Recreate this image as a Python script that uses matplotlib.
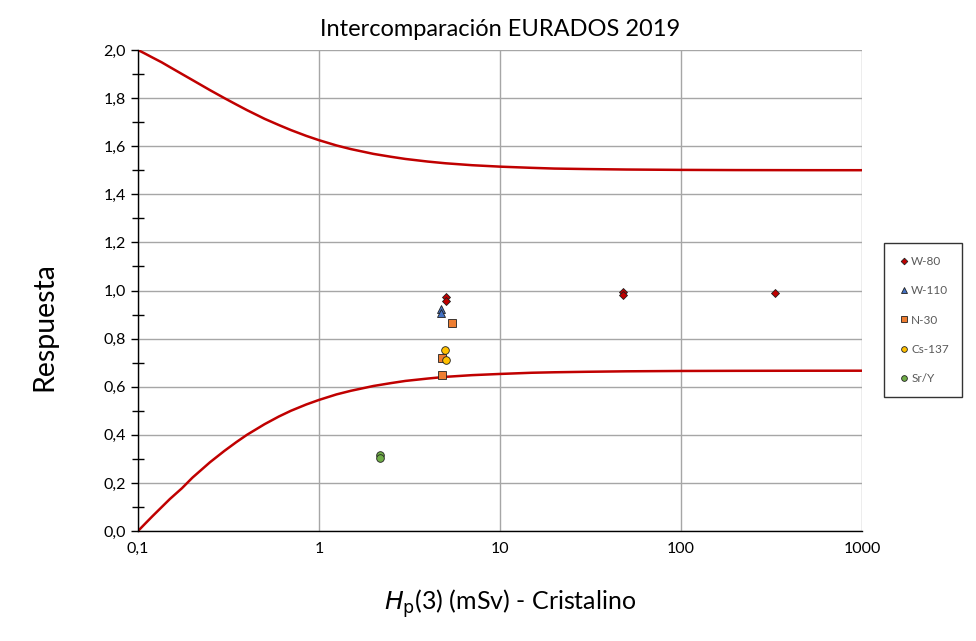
import matplotlib
matplotlib.use("Agg")
import matplotlib.pyplot as plt
from matplotlib.ticker import FixedLocator, FuncFormatter

plt.rcParams['font.family'] = ['Lato', 'DejaVu Sans']

# limit curves
curve_x = [0.1, 0.11, 0.12, 0.135, 0.15, 0.175, 0.2, 0.25, 0.3, 0.35, 0.4, 0.5, 0.6,
           0.7, 0.85, 1, 1.25, 1.5, 2, 2.5, 3, 4, 5, 7, 10, 15, 20, 30, 50, 100,
           200, 500, 1000]
upper = [2.0, 1.984, 1.969, 1.949, 1.929, 1.900, 1.875, 1.833, 1.800, 1.773, 1.750,
         1.714, 1.688, 1.667, 1.643, 1.625, 1.603, 1.588, 1.568, 1.556, 1.547,
         1.536, 1.529, 1.521, 1.515, 1.510, 1.507, 1.505, 1.503, 1.5015, 1.5007,
         1.5003, 1.5002]
lower = [0.0, 0.032, 0.061, 0.099, 0.133, 0.178, 0.222, 0.286, 0.333, 0.370, 0.400,
         0.444, 0.476, 0.500, 0.526, 0.545, 0.568, 0.583, 0.603, 0.615, 0.624,
         0.634, 0.641, 0.648, 0.653, 0.658, 0.660, 0.662, 0.664, 0.6654, 0.666,
         0.6664, 0.6665]

# measured points
w80_x = [5.0, 5.0, 48, 48, 330]
w80_y = [0.972, 0.955, 0.995, 0.980, 0.990]
w110_x = [4.75, 4.75]
w110_y = [0.922, 0.908]
n30_x = [5.45, 4.8, 4.8]
n30_y = [0.865, 0.72, 0.648]
cs_x = [4.97, 5.03]
cs_y = [0.753, 0.711]
sr_x = [2.17, 2.17]
sr_y = [0.316, 0.302]

fig = plt.figure(figsize=(9.76, 6.41), dpi=100)
ax = fig.add_axes([138/976, 1 - 531/641, (862-138)/976, (531-50)/641])

ax.plot(curve_x, upper, color='#C00000', lw=1.8, zorder=2)
ax.plot(curve_x, lower, color='#C00000', lw=1.8, zorder=2)

ms = 5.5
ax.plot(w80_x, w80_y, 'D', ms=4.5, color='#C00000', mec='#202020', mew=0.6, ls='none', label='W-80', zorder=3)
ax.plot(w110_x, w110_y, '^', ms=ms, color='#4472C4', mec='#202020', mew=0.6, ls='none', label='W-110', zorder=3)
ax.plot(n30_x, n30_y, 's', ms=ms, color='#ED7D31', mec='#202020', mew=0.6, ls='none', label='N-30', zorder=3)
ax.plot(cs_x, cs_y, 'o', ms=ms, color='#FFC000', mec='#202020', mew=0.6, ls='none', label='Cs-137', zorder=3)
ax.plot(sr_x, sr_y, 'o', ms=ms, color='#70AD47', mec='#202020', mew=0.6, ls='none', label='Sr/Y', zorder=3)

ax.set_xscale('log')
ax.set_xlim(0.1, 1000)
ax.set_ylim(0, 2.0)
ax.xaxis.set_major_locator(FixedLocator([0.1, 1, 10, 100, 1000]))
ax.xaxis.set_minor_locator(FixedLocator([]))
ax.xaxis.set_major_formatter(FuncFormatter(lambda v, p: ('%g' % v).replace('.', ',')))
ax.yaxis.set_major_locator(FixedLocator([i * 0.2 for i in range(11)]))
ax.yaxis.set_minor_locator(FixedLocator([0.1 + i * 0.2 for i in range(10)]))
ax.yaxis.set_major_formatter(FuncFormatter(lambda v, p: ('%.1f' % v).replace('.', ',')))

ax.grid(True, which='major', color='#A6A6A6', lw=1)
ax.set_axisbelow(True)
for s in ['top', 'right']:
    ax.spines[s].set_visible(False)
for s in ['left', 'bottom']:
    ax.spines[s].set_color('black')
    ax.spines[s].set_linewidth(1)
ax.tick_params(axis='both', which='major', direction='out', length=5, width=1,
               labelsize=11.5, colors='black')
ax.tick_params(axis='y', which='minor', direction='inout', length=9, width=1)
ax.tick_params(axis='x', which='both', length=0, pad=8)

ax.set_title('Intercomparación EURADOS 2019', fontsize=17, pad=10)
ax.set_ylabel('Respuesta', fontsize=20.5)
ax.yaxis.set_label_coords(-0.112, 0.424)
ax.set_xlabel(r'$\mathit{H}_{\mathrm{p}}$(3) (mSv) - Cristalino', fontsize=18)
ax.xaxis.set_label_coords(0.514, -0.118)

leg = fig.legend(loc='upper left', bbox_to_anchor=(884/976, 1 - 243/641),
                 frameon=True, fancybox=False, edgecolor='black', fontsize=8.5,
                 labelcolor='#595959', handletextpad=0.0, handlelength=1.2,
                 labelspacing=1.55, borderpad=1.1, borderaxespad=0,
                 markerscale=0.75)
leg.get_frame().set_linewidth(1)

fig.savefig('out.png', dpi=100)
